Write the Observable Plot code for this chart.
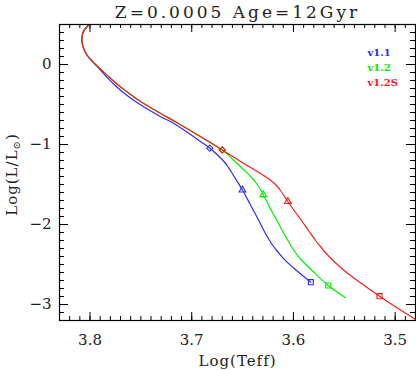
<!DOCTYPE html>
<html>
<head>
<meta charset="utf-8">
<script src="https://cdn.jsdelivr.net/npm/d3@7"></script>
<script src="https://cdn.jsdelivr.net/npm/@observablehq/plot@0.6"></script>
<style>
  body { margin: 0; background: #fff; }
  svg { background: #fff; }
</style>
</head>
<body>
<script>
// ---- data ----
const titleText = "Z=0.0005 Age=12Gyr";
const xLabel = "Log(Teff)";
const yLabel = "Log(L/L⊙)";
const seriesNames = ["v1.1", "v1.2", "v1.2S"];
const seriesColors = ["#2b2bff", "#00f000", "#ff1a1a"];

// shared upper branch (all three tracks coincide here)
const topTeff = [3.802, 3.8069, 3.808, 3.8069, 3.8039, 3.8000, 3.7946];
const topL    = [0.4875, 0.40, 0.3125, 0.225, 0.1375, 0.069, 0.0];

const v11Teff = [...topTeff, 3.7887, 3.7823, 3.7749, 3.7661, 3.7553, 3.7435, 3.7307, 3.7219, 3.7061, 3.6943, 3.6822, 3.6747, 3.6688, 3.6648, 3.6614, 3.6560, 3.6501, 3.6422, 3.6341, 3.6275, 3.6216, 3.6157, 3.6095, 3.5970, 3.5829];
const v11L    = [...topL, -0.085, -0.1725, -0.265, -0.3625, -0.4625, -0.5575, -0.6525, -0.706, -0.831, -0.9375, -1.046, -1.131, -1.206, -1.269, -1.3375, -1.4475, -1.569, -1.756, -1.95, -2.1125, -2.2375, -2.3375, -2.4288, -2.575, -2.721];

const v12Teff = [...topTeff, 3.7882, 3.7813, 3.7735, 3.7641, 3.7533, 3.7415, 3.7288, 3.7140, 3.6924, 3.670, 3.6589, 3.6481, 3.6412, 3.6363, 3.6324, 3.6297, 3.6255, 3.6206, 3.6160, 3.6108, 3.6055, 3.5996, 3.5914, 3.5832, 3.5658, 3.5488];
const v12L    = [...topL, -0.075, -0.156, -0.244, -0.3375, -0.4375, -0.531, -0.625, -0.731, -0.894, -1.0675, -1.194, -1.325, -1.4125, -1.4875, -1.5625, -1.6275, -1.731, -1.85, -1.956, -2.081, -2.20, -2.325, -2.456, -2.556, -2.7625, -2.916];

const v12STeff = [...topTeff, 3.7882, 3.7813, 3.7735, 3.7641, 3.7533, 3.7415, 3.7288, 3.7140, 3.6924, 3.670, 3.6589, 3.6471, 3.6353, 3.6245, 3.6176, 3.6127, 3.6088, 3.6055, 3.5990, 3.5921, 3.5852, 3.5783, 3.5734, 3.5695, 3.5606, 3.5459, 3.5311, 3.5154, 3.4977, 3.4800];
const v12SL    = [...topL, -0.075, -0.156, -0.244, -0.3375, -0.4375, -0.531, -0.625, -0.731, -0.894, -1.0675, -1.156, -1.25, -1.341, -1.429, -1.50, -1.575, -1.65, -1.7125, -1.831, -1.95, -2.075, -2.20, -2.275, -2.3375, -2.456, -2.619, -2.756, -2.896, -3.044, -3.1875];

const diamondTeff  = [3.6822, 3.670, 3.670];
const diamondL     = [-1.046, -1.0675, -1.0675];
const triangleTeff = [3.6501, 3.6297, 3.6055];
const triangleL    = [-1.569, -1.6275, -1.7125];
const squareTeff   = [3.5829, 3.5658, 3.5154];
const squareL      = [-2.721, -2.7625, -2.896];

const xMajorTicks = [3.8, 3.7, 3.6, 3.5];
const xMinorTicks = d3.range(348, 383).map(v => v / 100);
const yMajorTicks = [0, -1, -2, -3];
const yMinorTicks = d3.range(-32, 6).map(v => v / 10);

// ---- build tables ----
const tracks = [[v11Teff, v11L], [v12Teff, v12L], [v12STeff, v12SL]];
const lineData = tracks.flatMap(([t, l], s) => t.map((x, i) => ({x, y: l[i], s})));
const markerData = [];
[[diamondTeff, diamondL, "diamond2"], [triangleTeff, triangleL, "triangle2"], [squareTeff, squareL, "square2"]]
  .forEach(([t, l, sym]) => t.forEach((x, s) => markerData.push({x, y: l[s], s, sym})));
markerData.sort((a, b) => a.s - b.s);

const W = 416, H = 371, mL = 59, mR = 1, mT = 24, mB = 51;
const fh = H - mT - mB;
const fw = W - mL - mR;
const serif = "DejaVu Serif";

const marks = [];
seriesNames.forEach((name, s) => {
  marks.push(Plot.line(lineData.filter(d => d.s === s), {x: "x", y: "y", stroke: seriesColors[s], strokeWidth: 1.2, curve: "catmull-rom"}));
});
seriesNames.forEach((name, s) => {
  marks.push(Plot.dot(markerData.filter(d => d.s === s), {x: "x", y: "y", symbol: d => d.sym, r: d => d.sym === "diamond2" ? 2.6 : 3.4, stroke: seriesColors[s], strokeWidth: 1.1, fill: "none"}));
});
// ticks (inward, mirrored)
marks.push(
  Plot.ruleX(xMinorTicks, {x: d => d, insetTop: fh - 4, stroke: "#000"}),
  Plot.ruleX(xMinorTicks, {x: d => d, insetBottom: fh - 4, stroke: "#000"}),
  Plot.ruleX(xMajorTicks, {x: d => d, insetTop: fh - 8, stroke: "#000"}),
  Plot.ruleX(xMajorTicks, {x: d => d, insetBottom: fh - 8, stroke: "#000"}),
  Plot.ruleY(yMinorTicks, {y: d => d, insetRight: fw - 5, stroke: "#000"}),
  Plot.ruleY(yMinorTicks, {y: d => d, insetLeft: fw - 5, stroke: "#000"}),
  Plot.ruleY(yMajorTicks, {y: d => d, insetRight: fw - 9, stroke: "#000"}),
  Plot.ruleY(yMajorTicks, {y: d => d, insetLeft: fw - 9, stroke: "#000"}),
  Plot.frame({stroke: "#000", strokeWidth: 1.2}),
  Plot.text(xMajorTicks, {x: d => d, frameAnchor: "bottom", dy: 20, lineAnchor: "middle", text: d => d.toFixed(1), fontSize: 15, fontFamily: serif, fill: "#222"}),
  Plot.text(yMajorTicks, {y: d => d, frameAnchor: "left", dx: -8, textAnchor: "end", lineAnchor: "middle", text: d => d === 0 ? "0" : "−" + Math.abs(d), fontSize: 15, fontFamily: serif, fill: "#222"}),
  Plot.text([titleText], {frameAnchor: "top", dy: -12, lineAnchor: "middle", textAnchor: "middle", text: d => d, fontSize: 17, fontFamily: serif, fill: "#222"}),
  Plot.text([xLabel], {frameAnchor: "bottom", dy: 41, lineAnchor: "middle", textAnchor: "middle", text: d => d, fontSize: 15, fontFamily: serif, fill: "#222"}),
  Plot.text([yLabel], {frameAnchor: "left", dx: -47, dy: 2, rotate: -90, textAnchor: "middle", lineAnchor: "middle", text: d => d, fontSize: 15, fontFamily: serif, fill: "#222"})
);
seriesNames.forEach((name, s) => {
  marks.push(Plot.text([name], {frameAnchor: "top-right", dx: -48, dy: 28 + 15 * s, textAnchor: "start", lineAnchor: "middle", text: d => d, fontSize: 10, fontFamily: serif, fontWeight: "bold", fill: seriesColors[s]}));
});

const svg = Plot.plot({
  width: W, height: H,
  marginLeft: mL, marginRight: mR, marginTop: mT, marginBottom: mB,
  x: {domain: [3.83, 3.48], axis: null},
  y: {domain: [-3.2, 0.5], axis: null},
  marks
});
document.body.append(svg);

d3.select(svg).selectAll("text").each(function () {
  const t = this.textContent;
  if (t === titleText) this.style.letterSpacing = "3px";
  if (t === xLabel) this.style.letterSpacing = "1px";
  if (t === yLabel) {
    const sel = d3.select(this);
    sel.text(null).style("letter-spacing", "1px");
    sel.append("tspan").text("Log(L/L");
    sel.append("tspan").attr("font-size", 10).attr("dy", 3).text("⊙");
    sel.append("tspan").attr("dy", -3).text(")");
  }
});
</script>
</body>
</html>
